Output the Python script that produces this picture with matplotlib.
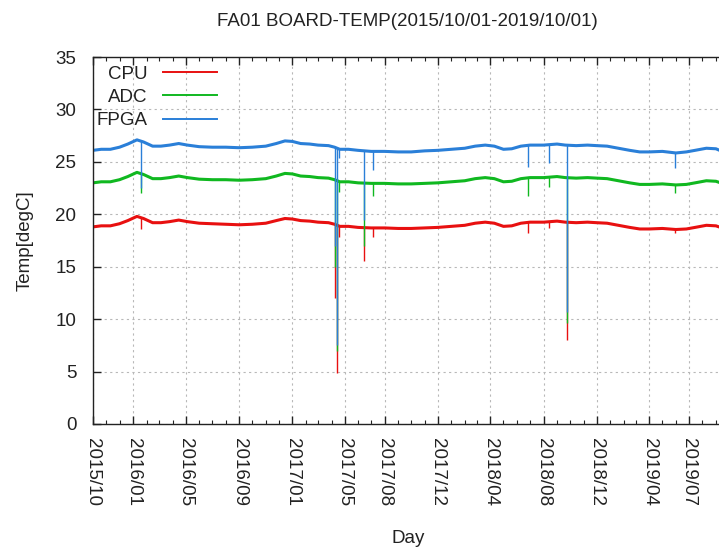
import numpy as np
import matplotlib.pyplot as plt
import matplotlib.dates as mdates
from matplotlib.lines import Line2D

plt.rcParams['font.family'] = ['Liberation Sans', 'DejaVu Sans']

# daily board temperatures, read at irregular sample dates
dates = np.array([
    '2015-10-01', '2015-10-20', '2015-11-10', '2015-12-01', '2015-12-20',
    '2016-01-10', '2016-01-25', '2016-02-15', '2016-03-05', '2016-03-25',
    '2016-04-15', '2016-05-05', '2016-06-01', '2016-07-01', '2016-08-01',
    '2016-09-01', '2016-10-01', '2016-11-01', '2016-11-25', '2016-12-15',
    '2017-01-01', '2017-01-20', '2017-02-10', '2017-03-01', '2017-03-25',
    '2017-04-08', '2017-04-20', '2017-05-10', '2017-06-01', '2017-07-01',
    '2017-08-01', '2017-09-01', '2017-10-01', '2017-11-01', '2017-12-01',
    '2018-01-01', '2018-02-01', '2018-02-25', '2018-03-20', '2018-04-10',
    '2018-05-01', '2018-05-20', '2018-06-10', '2018-07-01', '2018-08-01',
    '2018-09-01', '2018-09-20', '2018-10-15', '2018-11-10', '2018-12-01',
    '2018-12-25', '2019-01-20', '2019-02-15', '2019-03-10', '2019-04-01',
    '2019-05-01', '2019-06-01', '2019-06-25', '2019-07-15', '2019-08-10',
    '2019-09-01', '2019-09-15', '2019-10-01'], dtype='datetime64[D]')

cpu = [18.8, 18.9, 18.9, 19.1, 19.4, 19.8, 19.6, 19.2, 19.2, 19.3,
       19.45, 19.3, 19.15, 19.1, 19.05, 19.0, 19.05, 19.15, 19.4, 19.6,
       19.55, 19.4, 19.35, 19.25, 19.2, 19.05, 18.85, 18.85, 18.75, 18.7,
       18.7, 18.65, 18.65, 18.7, 18.75, 18.85, 18.95, 19.15, 19.25, 19.15,
       18.85, 18.9, 19.15, 19.25, 19.25, 19.35, 19.25, 19.2, 19.25, 19.2,
       19.15, 18.95, 18.75, 18.6, 18.6, 18.65, 18.55, 18.6, 18.75, 18.95,
       18.9, 18.7, 18.7]
adc = [23.0, 23.1, 23.1, 23.3, 23.6, 24.0, 23.8, 23.4, 23.4, 23.5,
       23.65, 23.5, 23.35, 23.3, 23.3, 23.25, 23.3, 23.4, 23.65, 23.9,
       23.85, 23.65, 23.6, 23.5, 23.45, 23.3, 23.1, 23.1, 23.0, 22.95,
       22.95, 22.9, 22.9, 22.95, 23.0, 23.1, 23.2, 23.4, 23.5, 23.4,
       23.1, 23.15, 23.4, 23.5, 23.5, 23.6, 23.5, 23.45, 23.5, 23.45,
       23.4, 23.2, 23.0, 22.85, 22.85, 22.9, 22.8, 22.85, 23.0, 23.2,
       23.15, 22.95, 22.95]
fpga = [26.1, 26.2, 26.2, 26.4, 26.7, 27.1, 26.9, 26.5, 26.5, 26.6,
        26.75, 26.6, 26.45, 26.4, 26.4, 26.35, 26.4, 26.5, 26.75, 27.0,
        26.95, 26.75, 26.7, 26.6, 26.55, 26.4, 26.2, 26.2, 26.1, 26.0,
        26.0, 25.95, 25.95, 26.05, 26.1, 26.2, 26.3, 26.5, 26.6, 26.5,
        26.2, 26.25, 26.5, 26.6, 26.6, 26.7, 26.6, 26.55, 26.6, 26.55,
        26.5, 26.3, 26.1, 25.95, 25.95, 26.0, 25.85, 25.95, 26.1, 26.3,
        26.25, 26.0, 26.0]

# short drops (power cycles etc.)
spike_dates = np.array([
    '2016-01-19', '2017-04-09', '2017-04-14', '2017-04-18', '2017-06-14',
    '2017-07-05', '2018-06-26', '2018-08-13', '2018-09-24', '2019-05-31'],
    dtype='datetime64[D]')
cpu_spike = [18.6, 12.0, 4.9, 17.8, 15.5, 17.8, 18.2, 18.7, 8.0, 18.2]
adc_spike = [22.0, 15.0, 7.0, 22.1, 17.0, 21.7, 21.7, 22.6, 9.6, 22.0]
fpga_spike = [22.5, 17.0, 7.5, 25.4, 19.5, 24.2, 24.5, 24.9, 10.7, 24.4]

tick_dates = np.array([
    '2015-10-01', '2016-01-01', '2016-05-01', '2016-09-01', '2017-01-01',
    '2017-05-01', '2017-08-01', '2017-12-01', '2018-04-01', '2018-08-01',
    '2018-12-01', '2019-04-01', '2019-07-01'], dtype='datetime64[D]')
tick_labels = ['2015/10', '2016/01', '2016/05', '2016/09', '2017/01',
               '2017/05', '2017/08', '2017/12', '2018/04', '2018/08',
               '2018/12', '2019/04', '2019/07']

series = [('CPU', cpu, cpu_spike, '#e81010'),
          ('ADC', adc, adc_spike, '#10b820'),
          ('FPGA', fpga, fpga_spike, '#2a7fd8')]

fig = plt.figure(figsize=(7.19, 5.51), dpi=100)
ax = fig.add_axes([0.1293, 0.2305, 0.8846, 0.666])

t = dates.astype('float64')
ts = spike_dates.astype('float64')
for name, vals, low, col in series:
    ax.plot(dates, vals, color=col, lw=2.2, solid_capstyle='butt')
    top = np.interp(ts, t, vals)
    ax.vlines(spike_dates, low, top, color=col, lw=1.0)

ax.set_xlim(np.datetime64('2015-10-01'), np.datetime64('2019-10-01'))
ax.set_ylim(0, 35)
ax.set_yticks(np.arange(0, 36, 5))
ax.set_xticks(tick_dates)
ax.set_xticklabels(tick_labels, rotation=-90, va='top', ha='center')
ax.xaxis.set_minor_locator(mdates.MonthLocator())

ax.tick_params(axis='both', which='both', direction='in', top=True,
               right=True, labelsize=13.5, colors='#222222')
ax.tick_params(axis='x', which='major', length=6, width=1, pad=10)
ax.tick_params(axis='x', which='minor', length=3, width=0.8)
ax.tick_params(axis='y', which='major', length=6, width=1, pad=12)
for s in ax.spines.values():
    s.set_linewidth(1.0)
    s.set_color('#222222')

ax.grid(True, which='major', color='#b8b8b8', lw=0.8, ls=(0, (2, 3)))

ax.set_title('FA01 BOARD-TEMP(2015/10/01-2019/10/01)', fontsize=13.5,
             color='#222222', x=0.495, pad=22)
ax.set_ylabel('Temp[degC]', fontsize=13.5, color='#222222')
ax.yaxis.set_label_coords(-0.093, 0.5)
ax.set_xlabel('Day', fontsize=13.5, color='#222222', va='top')
ax.xaxis.set_label_coords(0.495, -0.29)

handles = [Line2D([], [], color=col, lw=1.4) for _, _, _, col in series]
labels = [name for name, _, _, _ in series]
leg = ax.legend(handles, labels, loc='upper right', bbox_to_anchor=(0.195, 0.977),
                frameon=False, markerfirst=False, fontsize=13.5,
                handlelength=2.9, handletextpad=0.8, labelspacing=0.33,
                borderpad=0, borderaxespad=0)
for txt in leg.get_texts():
    txt.set_color('#222222')
leg._legend_handle_box.get_children()[0].align = 'right'

fig.savefig('out.png', dpi=100)
